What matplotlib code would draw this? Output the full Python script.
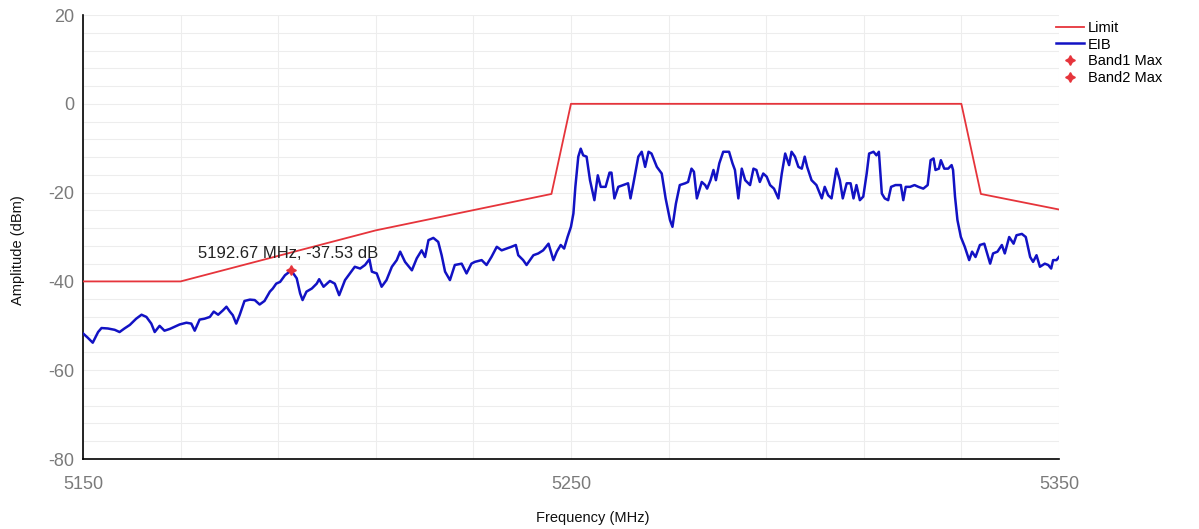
import matplotlib
matplotlib.use("Agg")
import matplotlib.pyplot as plt
from matplotlib.ticker import MultipleLocator

plt.rcParams['font.family'] = ['Liberation Sans', 'DejaVu Sans']
plt.rcParams['axes.unicode_minus'] = False

# limit mask
limit_freq = [5150, 5170, 5210, 5246, 5250, 5330, 5334, 5350]
limit_db = [-40, -40, -28.5, -20.3, 0, 0, -20.3, -23.8]

eib_freq = [
    5150.0, 5151.0, 5152.0, 5153.1, 5153.8, 5155.1, 5156.5, 5157.5, 5158.5, 5159.6,
    5160.9, 5162.0, 5163.0, 5164.0, 5164.7, 5165.7, 5166.7, 5167.8, 5168.8, 5169.8,
    5171.2, 5172.2, 5172.9, 5173.9, 5174.9, 5176.0, 5176.8, 5177.7, 5178.7, 5179.4,
    5180.1, 5180.7, 5181.4, 5182.1, 5183.1, 5184.2, 5185.2, 5186.2, 5187.2, 5188.3,
    5188.9, 5189.6, 5190.4, 5191.4, 5192.67, 5193.8, 5194.5, 5195.0, 5195.8, 5196.9,
    5197.9, 5198.4, 5199.3, 5200.6, 5201.6, 5202.5, 5203.7, 5204.7, 5205.7, 5206.8,
    5207.8, 5208.7, 5209.2, 5210.2, 5211.2, 5212.2, 5213.3, 5214.3, 5215.0, 5216.0,
    5217.4, 5218.4, 5219.4, 5220.1, 5220.8, 5221.8, 5222.8, 5223.5, 5224.2, 5225.2,
    5226.2, 5227.6, 5228.6, 5229.6, 5230.3, 5231.7, 5232.7, 5233.7, 5234.8, 5235.8,
    5236.8, 5237.8, 5238.7, 5239.2, 5240.2, 5240.9, 5242.3, 5243.3, 5244.3, 5245.4,
    5246.4, 5247.1, 5247.9, 5248.6, 5249.3, 5250.0, 5250.5, 5250.9, 5251.5, 5252.0,
    5252.5, 5253.2, 5253.9, 5254.8, 5255.5, 5256.1, 5257.1, 5257.9, 5258.3, 5258.9,
    5259.7, 5260.7, 5261.7, 5262.2, 5262.8, 5263.8, 5264.5, 5265.2, 5265.9, 5266.5,
    5267.6, 5268.6, 5269.4, 5270.3, 5270.8, 5271.5, 5272.3, 5273.4, 5274.0, 5274.7,
    5275.2, 5275.8, 5276.8, 5277.5, 5277.9, 5278.6, 5279.2, 5279.7, 5280.4, 5281.2,
    5282.4, 5283.1, 5283.6, 5284.3, 5285.0, 5285.7, 5286.7, 5287.4, 5288.0, 5288.7,
    5289.4, 5290.1, 5290.8, 5291.6, 5292.5, 5293.2, 5293.9, 5294.7, 5295.2, 5295.9,
    5296.6, 5297.3, 5297.9, 5298.4, 5299.3, 5300.3, 5301.4, 5302.0, 5302.7, 5303.4,
    5304.4, 5305.1, 5305.7, 5306.5, 5307.3, 5307.9, 5308.5, 5309.2, 5309.9, 5310.6,
    5311.1, 5312.0, 5312.6, 5313.1, 5313.7, 5314.3, 5315.0, 5315.6, 5316.5, 5317.6,
    5318.1, 5318.6, 5319.5, 5320.4, 5321.2, 5322.2, 5323.1, 5323.7, 5324.3, 5324.7,
    5325.4, 5325.8, 5326.5, 5327.3, 5328.0, 5328.3, 5328.7, 5329.2, 5329.9, 5330.7,
    5331.6, 5332.2, 5332.9, 5333.8, 5334.7, 5335.4, 5335.9, 5336.5, 5337.4, 5338.3,
    5338.9, 5339.8, 5340.7, 5341.3, 5342.4, 5343.2, 5344.1, 5344.7, 5345.4, 5346.1,
    5347.1, 5347.8, 5348.4, 5348.8, 5349.5, 5350.0,
]
eib_db = [
    -51.7, -52.7, -53.8, -51.4, -50.5, -50.6, -50.9, -51.4, -50.6, -49.8,
    -48.4, -47.5, -48.0, -49.5, -51.4, -50.0, -51.1, -50.7, -50.2, -49.7,
    -49.3, -49.5, -51.1, -48.6, -48.4, -48.0, -46.8, -47.5, -46.5, -45.7,
    -46.8, -47.6, -49.5, -47.6, -44.4, -44.1, -44.2, -45.2, -44.4, -42.3,
    -41.6, -40.5, -40.1, -38.6, -37.53, -39.3, -42.7, -44.2, -42.3, -41.6,
    -40.5, -39.5, -41.2, -39.9, -40.5, -43.1, -39.7, -38.2, -36.7, -37.1,
    -36.3, -35.0, -37.8, -38.2, -41.2, -39.7, -36.7, -35.2, -33.3, -35.6,
    -37.5, -34.8, -33.0, -34.5, -30.7, -30.2, -31.1, -34.1, -37.8, -39.7,
    -36.3, -36.0, -38.2, -36.0, -35.6, -35.2, -36.3, -34.5, -32.2, -33.0,
    -32.6, -32.2, -31.8, -34.1, -35.2, -36.3, -34.1, -33.7, -33.0, -31.5,
    -35.2, -33.3, -31.8, -32.6, -30.0, -27.7, -24.7, -18.7, -11.9, -10.1,
    -11.6, -11.9, -17.2, -21.7, -16.1, -18.7, -18.7, -15.5, -15.5, -21.3,
    -18.7, -18.3, -17.9, -21.3, -17.9, -11.9, -10.8, -14.2, -10.8, -11.2,
    -14.2, -15.7, -21.3, -26.2, -27.7, -22.5, -18.3, -17.9, -17.6, -14.6,
    -15.3, -21.3, -17.6, -18.3, -19.1, -17.2, -14.9, -17.2, -13.4, -10.8,
    -10.8, -13.4, -14.9, -21.3, -14.6, -17.2, -18.3, -14.6, -14.9, -17.6,
    -15.7, -16.4, -18.3, -19.1, -21.3, -15.7, -11.2, -13.8, -10.8, -11.9,
    -14.2, -14.6, -11.9, -14.2, -17.2, -18.3, -21.3, -18.7, -20.6, -21.3,
    -14.6, -17.2, -21.3, -17.9, -17.9, -21.3, -18.3, -21.7, -20.9, -15.7,
    -11.2, -10.8, -11.6, -10.8, -20.2, -21.3, -21.7, -18.7, -18.3, -18.3,
    -21.7, -18.7, -18.7, -18.3, -18.7, -19.1, -18.3, -12.7, -12.3, -14.9,
    -14.6, -12.7, -14.6, -14.6, -13.8, -14.9, -20.9, -26.2, -30.0, -32.2,
    -35.2, -33.3, -34.5, -31.8, -31.5, -34.1, -36.0, -33.7, -33.3, -31.8,
    -33.7, -30.0, -31.5, -29.6, -29.3, -30.0, -34.5, -35.6, -34.1, -36.7,
    -36.0, -36.3, -37.1, -35.2, -35.2, -34.5,
]

band1_freq = [5192.67]
band1_db = [-37.53]
band2_freq = []
band2_db = []

fig = plt.figure(figsize=(11.99, 5.29), dpi=100)
ax = fig.add_axes([0.0692, 0.1323, 0.8140, 0.8393])

ax.plot(limit_freq, limit_db, color='#e6343b', lw=1.3, label='Limit', zorder=3)
ax.plot(eib_freq, eib_db, color='#1212c4', lw=1.8, label='EIB', zorder=4)
star = (4, 1, 0)
ax.plot(band1_freq, band1_db, ls='none', marker=star, ms=7, color='#e6343b',
        label='Band1 Max', zorder=5)
ax.plot(band2_freq, band2_db, ls='none', marker=star, ms=7, color='#e6343b',
        label='Band2 Max', zorder=5)

for f, d in zip(band1_freq, band1_db):
    ax.annotate(f'{f:.2f} MHz, {d:.2f} dB', (f, d), xytext=(-2, 7),
                textcoords='offset points', ha='center', va='bottom',
                fontsize=12, color='#222222')

ax.set_xlim(5150, 5350)
ax.set_ylim(-80, 20)
ax.set_xticks([5150, 5250, 5350])
ax.set_yticks([-80, -60, -40, -20, 0, 20])
ax.xaxis.set_minor_locator(MultipleLocator(20, offset=10))
ax.yaxis.set_minor_locator(MultipleLocator(4))
ax.grid(True, which='both', color='#ededed', lw=0.8)
ax.set_axisbelow(True)
ax.tick_params(which='both', length=0, labelsize=13, labelcolor='#7a7a7a')
ax.tick_params(axis='x', pad=12)
ax.tick_params(axis='y', pad=6)
for s in ['top', 'right']:
    ax.spines[s].set_visible(False)
for s in ['left', 'bottom']:
    ax.spines[s].set_color('black')
    ax.spines[s].set_linewidth(1.2)

fig.text(0.015, 0.527, 'Amplitude (dBm)', rotation=90, ha='center', va='center',
         fontsize=10.5, color='#111111')
fig.text(0.494, 0.021, 'Frequency (MHz)', ha='center', va='center',
         fontsize=10.5, color='#111111')

ax.legend(loc='upper left', bbox_to_anchor=(0.876, 0.972), bbox_transform=fig.transFigure,
          frameon=False, fontsize=10.5, handlelength=1.9, handletextpad=0.25,
          labelspacing=0.2, borderaxespad=0)

fig.savefig('out.png', dpi=100)
